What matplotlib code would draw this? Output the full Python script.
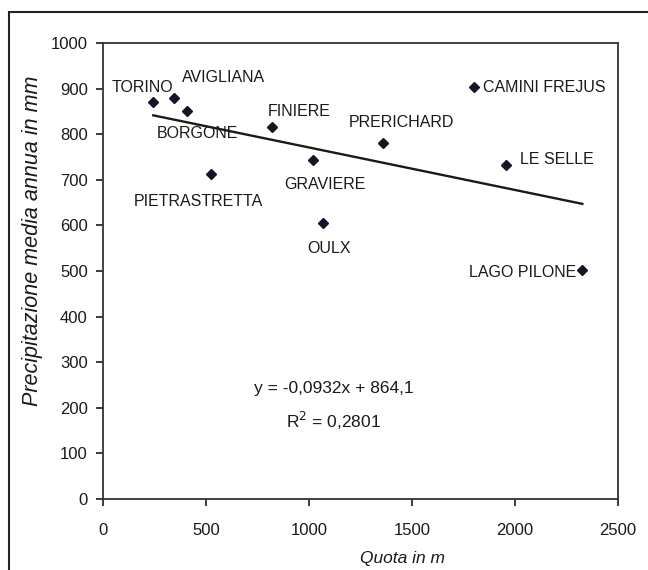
import matplotlib.pyplot as plt
from matplotlib.patches import Rectangle

plt.rcParams['font.family'] = ['Liberation Sans', 'DejaVu Sans']

# stazioni: quota (m) e precipitazione media annua (mm)
stazioni = ['TORINO', 'AVIGLIANA', 'BORGONE', 'PIETRASTRETTA', 'FINIERE', 'GRAVIERE',
            'OULX', 'PRERICHARD', 'CAMINI FREJUS', 'LE SELLE', 'LAGO PILONE']
quota = [244, 345, 406, 523, 819, 1018, 1070, 1361, 1802, 1955, 2327]
precip = [870, 880, 851, 713, 816, 743, 606, 780, 903, 732, 502]

# retta di regressione come riportata nel grafico
pendenza = -0.0932
intercetta = 864.1
r2 = 0.2801

# posizione delle etichette rispetto al punto (pixel), allineamento
offset = [(-11, 15, 'center'), (49, 20, 'center'), (11, -23, 'center'), (-12, -28, 'center'),
          (27, 15, 'center'), (12, -24, 'center'), (6, -26, 'center'), (18, 21, 'center'),
          (9, 0, 'left'), (14, 6, 'left'), (-6, -2, 'right')]

col = '#1a1a1a'
fig = plt.figure(figsize=(6.48, 5.70), dpi=100)
ax = fig.add_axes([103/648, 71/570, 515/648, 456/570])

ax.plot(quota, precip, linestyle='none', marker='D', markersize=5.5, color='#151525')

xr = [min(quota), max(quota)]
ax.plot(xr, [pendenza * v + intercetta for v in xr], color=col, linewidth=1.7)

for nome, xv, yv, (dx, dy, ha) in zip(stazioni, quota, precip, offset):
    ax.annotate(nome, (xv, yv), xytext=(dx, dy), textcoords='offset pixels',
                ha=ha, va='center', fontsize=11.5, color=col)

ax.text(0.448, 0.243, 'y = -0,0932x + 864,1', transform=ax.transAxes,
        ha='center', va='center', fontsize=12.5, color=col)
ax.text(0.448, 0.171, 'R$^2$ = 0,2801', transform=ax.transAxes,
        ha='center', va='center', fontsize=12.5, color=col)

ax.set_xlim(0, 2500)
ax.set_ylim(0, 1000)
ax.set_xticks(range(0, 2501, 500))
ax.set_yticks(range(0, 1001, 100))
ax.tick_params(direction='out', length=5, width=1.2, labelsize=12, colors=col)
ax.tick_params(axis='x', pad=12)
ax.tick_params(axis='y', pad=6)
for s in ax.spines.values():
    s.set_linewidth(1.3)
    s.set_color('#333333')

fig.text(403/648, 1 - 558/570, 'Quota in m', ha='center', va='center',
         fontsize=12.5, style='italic', color=col)
fig.text(33/648, 1 - 241/570, 'Precipitazione media annua in mm', ha='center', va='center',
         rotation=90, fontsize=15.5, style='italic', color=col)

# cornice esterna
fig.patches.append(Rectangle((9/648, -0.05), 1.2, 1 - 12/570 + 0.05, transform=fig.transFigure,
                             fill=False, edgecolor='#222222', linewidth=1.5))

fig.savefig('out.png', dpi=100)
